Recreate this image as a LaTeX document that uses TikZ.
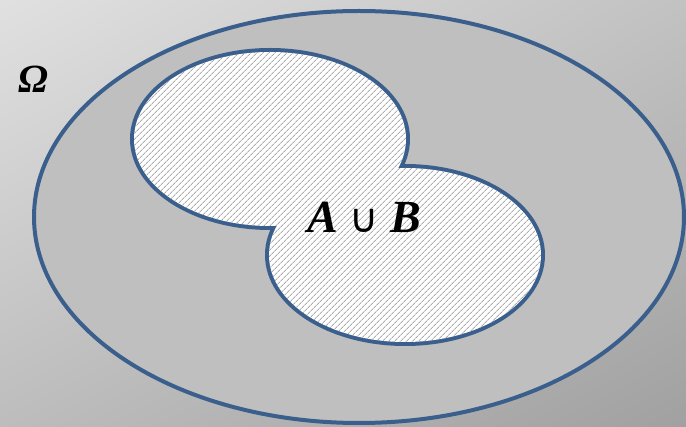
\documentclass[tikz,border=0pt]{standalone}
\usepackage{fontspec}
\setmainfont{Liberation Serif}
\newfontfamily\symbfont{DejaVu Sans}
\usetikzlibrary{patterns.meta,shadings}
\definecolor{setblue}{HTML}{3A5F8D}
\definecolor{inside}{HTML}{BFBFBF}
\begin{document}
\begin{tikzpicture}[x=1pt,y=-1pt]
    \newcommand{\rx}{136}
    \newcommand{\ry}{87}
    \useasboundingbox (0,0) rectangle (686,427);
    \shade[upper left=black!12,upper right=black!24,lower left=black!26,lower right=black!37] (0,0) rectangle (686,427);
    
    \filldraw[fill=inside,draw=setblue,line width=4] (359,217) ellipse [x radius=325,y radius=206];
    
    % union outline: double width, inner half covered by the fill
    \draw[setblue,line width=8] (270,139) ellipse [x radius=\rx,y radius=\ry];
    \draw[setblue,line width=8] (405,255) ellipse [x radius=\rx,y radius=\ry];
    \fill[white] (270,139) ellipse [x radius=\rx,y radius=\ry] (405,255) ellipse [x radius=\rx,y radius=\ry];
    \fill[pattern={Lines[angle=45,distance=4pt,line width=1pt]},pattern color=black!32] (270,139) ellipse [x radius=\rx,y radius=\ry] (405,255) ellipse [x radius=\rx,y radius=\ry];
    
    \node (omega) at (33,79) {\fontsize{40}{44}\selectfont\bfseries\itshape Ω};
    \node (union) at (364,217) {\fontsize{46}{50}\selectfont\bfseries\itshape A {\symbfont\mdseries\upshape\fontsize{40}{44}\selectfont ∪} B};
\end{tikzpicture}
\end{document}
